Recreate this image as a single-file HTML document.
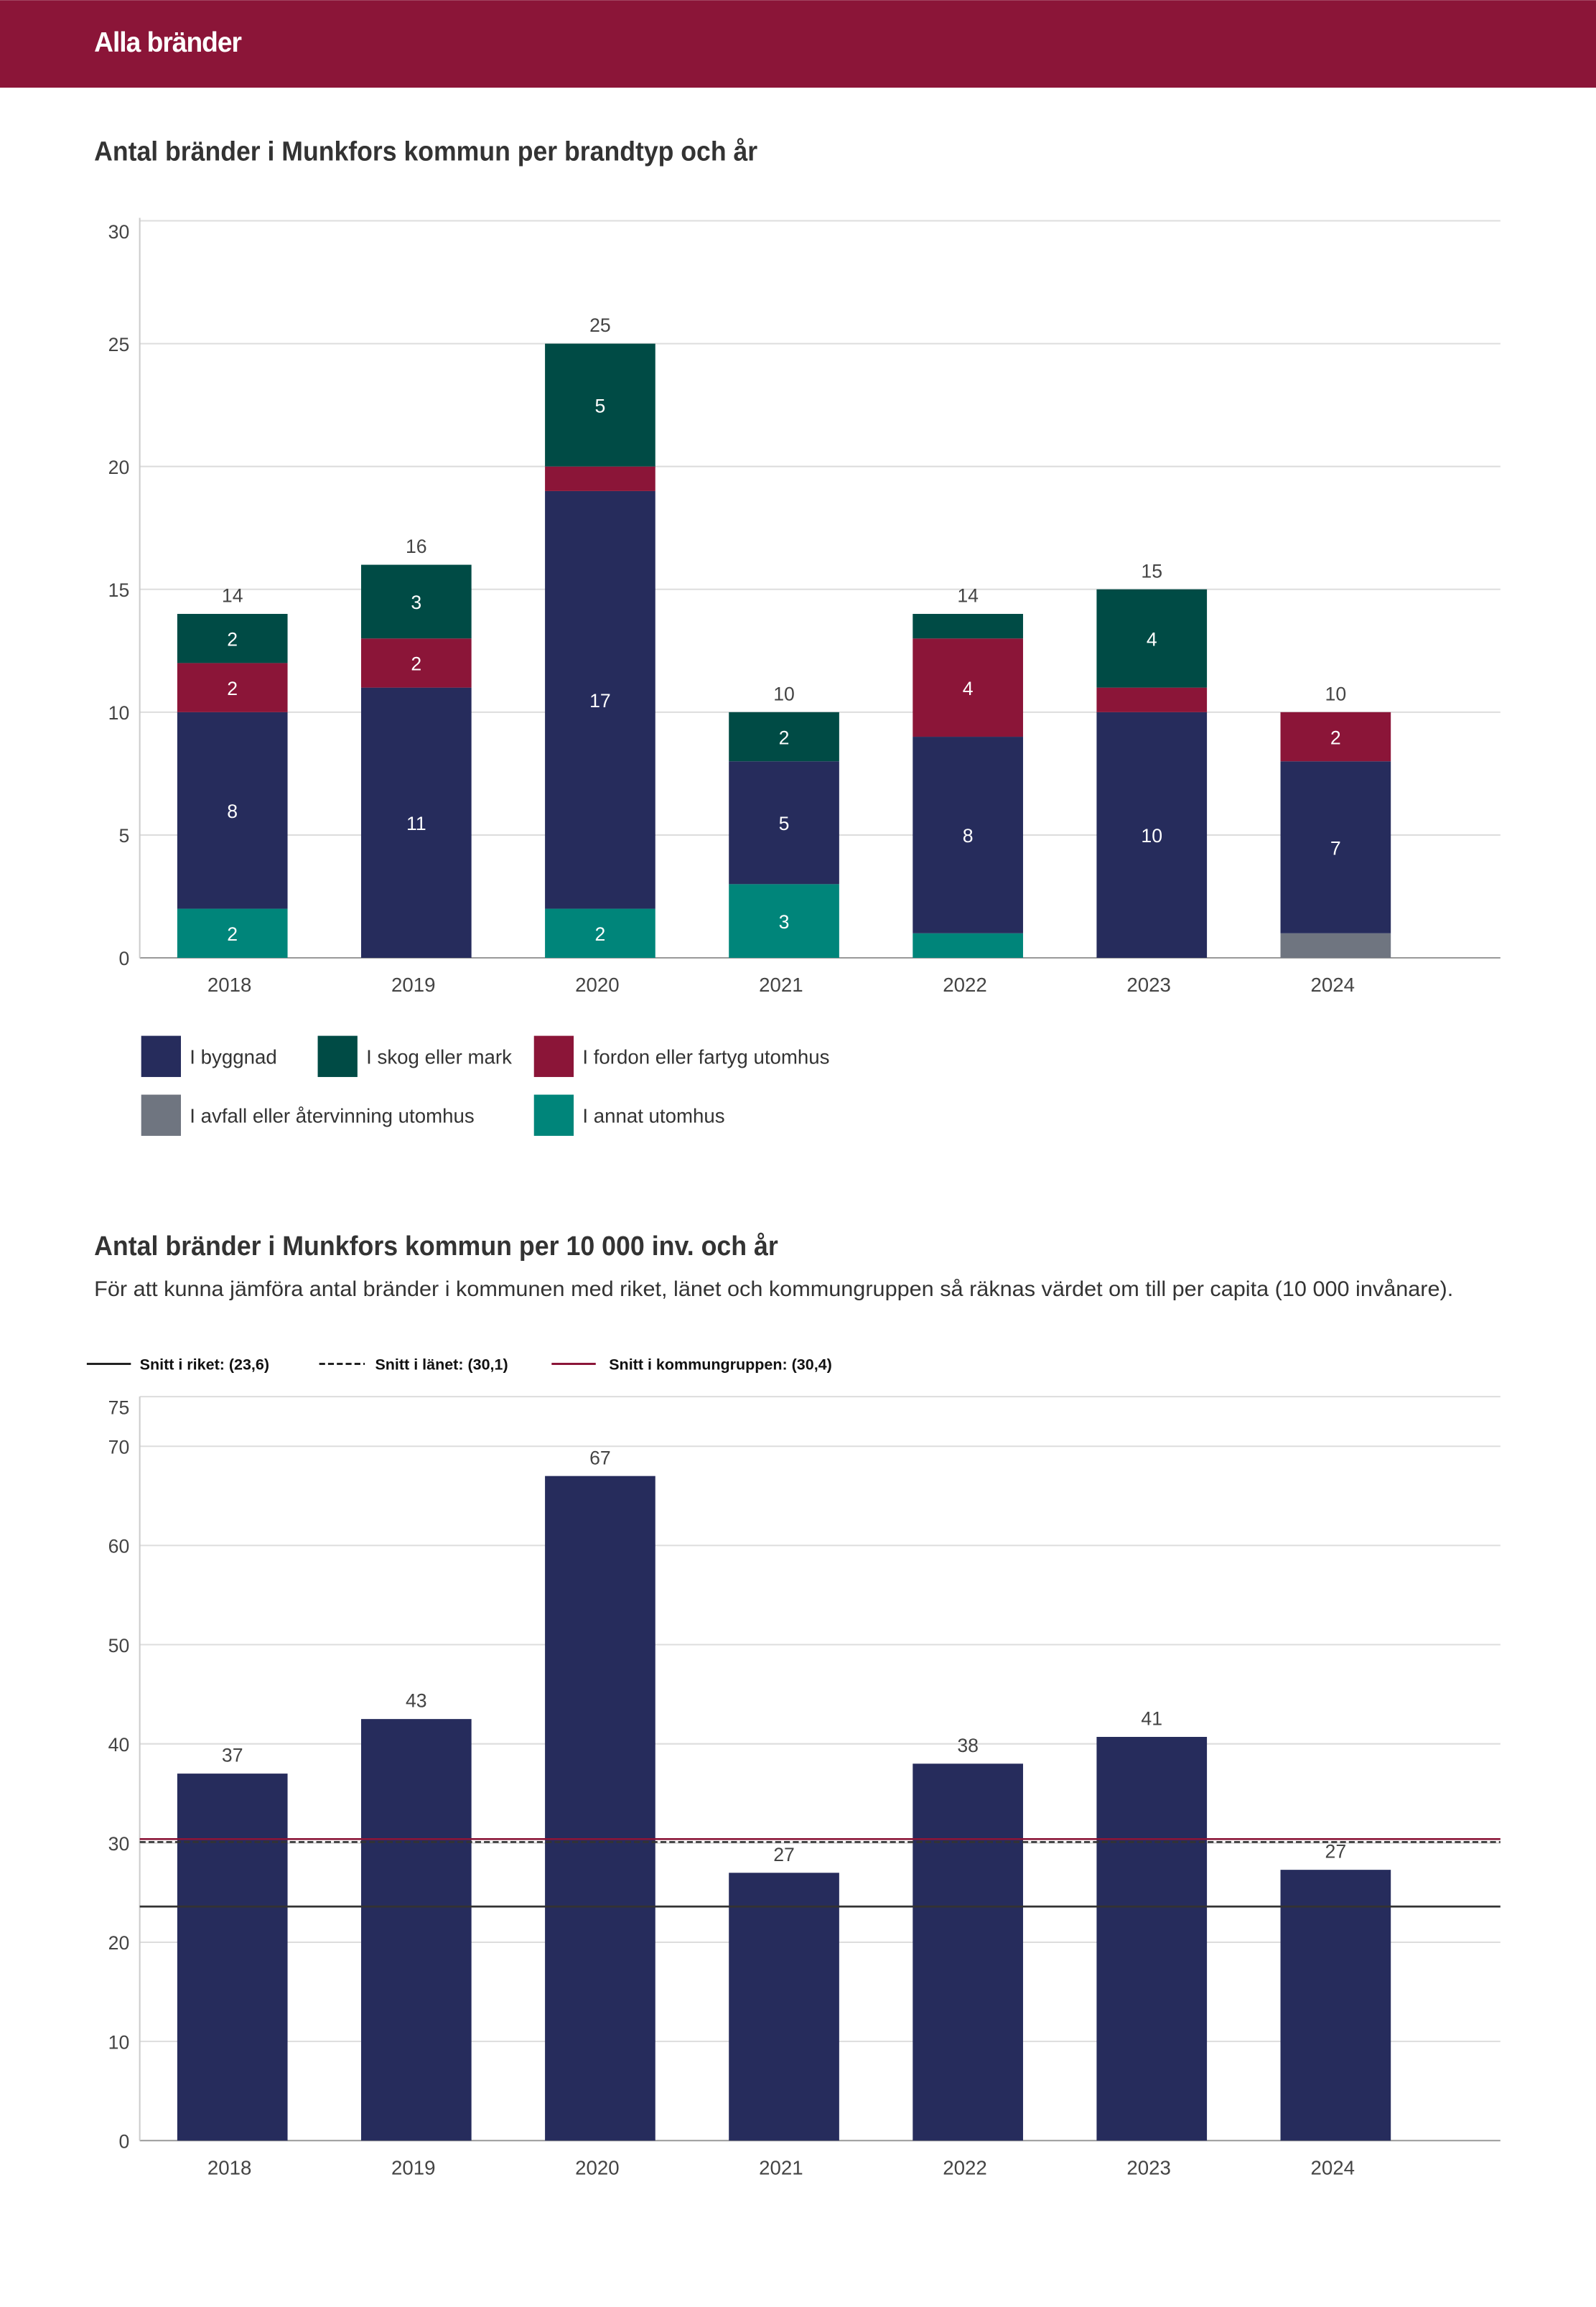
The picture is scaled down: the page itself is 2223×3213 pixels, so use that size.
<!DOCTYPE html>
<html><head><meta charset="utf-8"><style>
html,body{margin:0;padding:0;background:#fff;}
svg{display:block;font-family:"Liberation Sans",sans-serif;}
</style></head><body>
<svg id="root" width="2223" height="3213" viewBox="0 0 1085 1568" xmlns="http://www.w3.org/2000/svg">
<rect x="0" y="0" width="1085" height="59.5" fill="#8b1538"/>
<text x="64" y="35" font-size="19" font-weight="bold" fill="#fff" letter-spacing="-0.5" textLength="100" lengthAdjust="spacingAndGlyphs">Alla bränder</text>
<text x="64" y="109" font-size="18.5" font-weight="bold" fill="#333" textLength="451" lengthAdjust="spacingAndGlyphs">Antal bränder i Munkfors kommun per brandtyp och år</text>
<g id="c1"></g>
<g>
<rect x="96" y="704" width="27" height="28" fill="#262c5c"/><text x="129" y="723" font-size="13.5" fill="#333">I byggnad</text>
<rect x="216" y="704" width="27" height="28" fill="#004b45"/><text x="249" y="723" font-size="13.5" fill="#333">I skog eller mark</text>
<rect x="363" y="704" width="27" height="28" fill="#8b1538"/><text x="396" y="723" font-size="13.5" fill="#333">I fordon eller fartyg utomhus</text>
<rect x="96" y="744" width="27" height="28" fill="#6f7580"/><text x="129" y="763" font-size="13.5" fill="#333">I avfall eller återvinning utomhus</text>
<rect x="363" y="744" width="27" height="28" fill="#00857a"/><text x="396" y="763" font-size="13.5" fill="#333">I annat utomhus</text>
</g>
<text x="64" y="853" font-size="18.5" font-weight="bold" fill="#333" textLength="465" lengthAdjust="spacingAndGlyphs">Antal bränder i Munkfors kommun per 10 000 inv. och år</text>
<text x="64" y="881" font-size="14.5" fill="#333" textLength="924" lengthAdjust="spacingAndGlyphs">För att kunna jämföra antal bränder i kommunen med riket, länet och kommungruppen så räknas värdet om till per capita (10 000 invånare).</text>
<g>
<line x1="59" y1="927" x2="89" y2="927" stroke="#222" stroke-width="1.5"/>
<text x="95" y="931" font-size="10.5" font-weight="bold" fill="#111">Snitt i riket: (23,6)</text>
<line x1="217" y1="927" x2="248" y2="927" stroke="#222" stroke-width="1.5" stroke-dasharray="4,2"/>
<text x="255" y="931" font-size="10.5" font-weight="bold" fill="#111">Snitt i länet: (30,1)</text>
<line x1="375" y1="927" x2="405" y2="927" stroke="#8b1538" stroke-width="1.5"/>
<text x="414" y="931" font-size="10.5" font-weight="bold" fill="#111">Snitt i kommungruppen: (30,4)</text>
</g>
<g id="c2"></g>
</svg>
<script>
const years = ["2018","2019","2020","2021","2022","2023","2024"];
const annat = [2,0,2,3,1,0,0];
const avfall = [0,0,0,0,0,0,1];
const byggnad = [8,11,17,5,8,10,7];
const fordon = [2,2,1,0,4,1,2];
const skog = [2,3,5,2,1,4,0];
const ticks1 = [0,5,10,15,20,25,30];
const perCapita = [37,42.5,67,27,38,40.7,27.3];
const perCapitaLabels = ["37","43","67","27","38","41","27"];
const ticks2 = [0,10,20,30,40,50,60,70,75];
const refRiket = 23.6, refLanet = 30.1, refGrupp = 30.4;

const NS="http://www.w3.org/2000/svg";
function mk(parent,tag,attrs,txt){const e=document.createElementNS(NS,tag);for(const k in attrs)e.setAttribute(k,attrs[k]);if(txt!==undefined)e.textContent=txt;parent.appendChild(e);return e;}
const xL=95,xR=1020,bw=75;
function xc(i){return 158+i*125;}

// chart 1
const c1=document.getElementById('c1');
const y1=v=>651-v*(501/30);
ticks1.forEach((t,k)=>{
  const g=mk(c1,'line',{x1:xL,x2:xR,y1:y1(t),y2:y1(t),stroke:t===0?'#999':'#ddd','stroke-width':1});
  
  
  const top=k===ticks1.length-1;
  const l=mk(c1,'text',{x:88,y:y1(t)+(top?12:5),'font-size':13,fill:'#444','text-anchor':'end'},String(t));
  
  
});
{const a=mk(c1,'line',{x1:xL,x2:xL,y1:148,y2:651,stroke:'#ccc'});}
const series=[[annat,'#00857a','annat'],[avfall,'#6f7580','avfall'],[byggnad,'#262c5c','byggnad'],[fordon,'#8b1538','fordon'],[skog,'#004b45','skog']];
years.forEach((yr,i)=>{
  let base=0;
  series.forEach(([arr,col,nm])=>{
    const v=arr[i];if(!v)return;
    const r=mk(c1,'rect',{x:xc(i)-bw/2,y:y1(base+v),width:bw,height:y1(base)-y1(base+v),fill:col});
    
    
    if(v>=2){const t=mk(c1,'text',{x:xc(i),y:(y1(base)+y1(base+v))/2+5,'font-size':13,fill:'#fff','text-anchor':'middle'},String(v));
      
      }
    base+=v;
  });
  const tt=mk(c1,'text',{x:xc(i),y:y1(base)-8,'font-size':13,fill:'#444','text-anchor':'middle'},String(base));
  
  
  const xl=mk(c1,'text',{x:xc(i)-2,y:674,'font-size':13.5,fill:'#444','text-anchor':'middle'},yr);
  
  
});

// chart 2
const c2=document.getElementById('c2');
const y2=v=>1455-v*(472/70);
ticks2.forEach((t,k)=>{
  const g=mk(c2,'line',{x1:xL,x2:xR,y1:y2(t),y2:y2(t),stroke:t===0?'#999':'#ddd','stroke-width':1});
  
  
  const top=k===ticks2.length-1;
  const l=mk(c2,'text',{x:88,y:y2(t)+(top?12:5),'font-size':13,fill:'#444','text-anchor':'end'},String(t));
  
  
});
{const a=mk(c2,'line',{x1:xL,x2:xL,y1:y2(75),y2:1455,stroke:'#ccc'});}
years.forEach((yr,i)=>{
  const v=perCapita[i];
  const r=mk(c2,'rect',{x:xc(i)-bw/2,y:y2(v),width:bw,height:1455-y2(v),fill:'#262c5c'});
  
  
  const t=mk(c2,'text',{x:xc(i),y:y2(v)-8,'font-size':13,fill:'#444','text-anchor':'middle'},perCapitaLabels[i]);
  
  
  const xl=mk(c2,'text',{x:xc(i)-2,y:1478,'font-size':13.5,fill:'#444','text-anchor':'middle'},yr);
  
  
});
const l1=mk(c2,'line',{x1:xL,x2:xR,y1:y2(refRiket),y2:y2(refRiket),stroke:'#333','stroke-width':1.3});


const l2=mk(c2,'line',{x1:xL,x2:xR,y1:y2(refLanet),y2:y2(refLanet),stroke:'#333','stroke-width':1.3,'stroke-dasharray':'4,2'});


const l3=mk(c2,'line',{x1:xL,x2:xR,y1:y2(refGrupp),y2:y2(refGrupp),stroke:'#8b1538','stroke-width':1.3});


</script>
</body></html>
